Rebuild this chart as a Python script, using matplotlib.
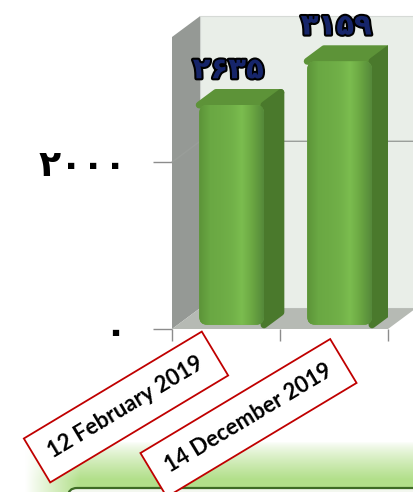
import numpy as np
import matplotlib.pyplot as plt
import matplotlib.patheffects as pe
from matplotlib.patches import Polygon, FancyBboxPatch
from matplotlib.transforms import ScaledTranslation
from matplotlib.colors import to_rgb

# data
categories = ['12 February 2019', '14 December 2019']
values = [2635, 3159]
value_labels = ['۲۶۳۵', '۳۱۵۹']
y_ticks = [0, 2000]
y_tick_labels = ['۰', '۲۰۰۰']

W, H = 413, 492
fig = plt.figure(figsize=(W / 100, H / 100), dpi=100)
fig.patch.set_facecolor('white')

# background band at the bottom (slide decoration)
bg = fig.add_axes([0, 0, 1, 1], zorder=-5)
bg.set_xlim(0, W)
bg.set_ylim(0, H)
bg.axis('off')
yy = np.linspace(0, H, H)[:, None]
xx = np.linspace(0, W, W)[None, :]
vert = np.clip((50 - yy) / 38, 0, 1) ** 0.8
horiz = np.clip((xx - 25) / 55, 0, 1)
amt = vert * horiz
white = np.array([1, 1, 1])
green = np.array(to_rgb('#b2df8a'))
img = white + (green - white) * amt[..., None]
bg.imshow(img, extent=[0, W, 0, H], origin='lower', aspect='auto')
bg.add_patch(FancyBboxPatch((68, -20), 400, 24, boxstyle='round,pad=0,rounding_size=9',
                            fc='#f3f7ef', ec='#3e6b25', lw=1.6))

# main axes = front plane of the 3d chart
ax = fig.add_axes([172 / W, 163 / H, 216 / W, 292 / H])
ax.patch.set_visible(False)
for s in ax.spines.values():
    s.set_visible(False)

DX, DY = 0.26, 250  # depth offset in data units


def proj(x, v, d):
    return (x + d * DX, v + d * DY)


ymax = 3500
# walls
ax.add_patch(Polygon([proj(0, 0, 1), proj(0, ymax, 1), proj(2.2, ymax, 1), proj(2.2, 0, 1)],
                     closed=True, fc='#e9eee8', ec='#d6dad6', lw=0.8, clip_on=False, zorder=0))
ax.add_patch(Polygon([proj(0, 0, 0), proj(0, ymax, 0), proj(0, ymax, 1), proj(0, 0, 1)],
                     closed=True, fc='#959995', ec='none', clip_on=False, zorder=1))
ax.add_patch(Polygon([proj(0, 0, 0), proj(0, 0, 1), proj(2, 0, 1), proj(2, 0, 0)],
                     closed=True, fc='#b6bab4', ec='none', clip_on=False, zorder=1))
for t in y_ticks[1:]:
    g = [proj(0, t, 0), proj(0, t, 1), proj(2.2, t, 1)]
    ax.plot([p[0] for p in g], [p[1] for p in g], color='#9a9e9a', lw=1, clip_on=False, zorder=2)

# bars
bw = 0.6
d0, d1 = 0.2, 0.8
shade = np.array([to_rgb(c) for c in ['#5c9438', '#6aa843', '#6dab45', '#71b048', '#7bbd4f', '#6aa642', '#55893a']])
pos = np.linspace(0, len(shade) - 1, 60)
grad = np.stack([np.interp(pos, np.arange(len(shade)), shade[:, k]) for k in range(3)], axis=-1)[None, :, :]

for i, (v, lab) in enumerate(zip(values, value_labels)):
    c = i + 0.5
    x0 = c - bw / 2
    top = [proj(x0, v, d0), proj(x0, v, d1), proj(x0 + bw, v, d1), proj(x0 + bw, v, d0)]
    side = [proj(x0 + bw, 0, d0), proj(x0 + bw, v, d0), proj(x0 + bw, v, d1), proj(x0 + bw, 0, d1)]
    ax.add_patch(Polygon(top, closed=True, fc='#5d9338', ec='#5d9338', lw=5, joinstyle='round', zorder=3))
    ax.add_patch(Polygon(side, closed=True, fc='#4a792c', ec='#4a792c', lw=5, joinstyle='round', zorder=3))
    fx, fy = proj(x0, 0, d0)
    front = FancyBboxPatch((fx, fy), bw, v, boxstyle='round,pad=0,rounding_size=0.075',
                           mutation_aspect=1290, fc='#6aa843', ec='none', zorder=4)
    ax.add_patch(front)
    im = ax.imshow(grad, extent=[fx, fx + bw, fy, fy + v], aspect='auto', zorder=4.5)
    im.set_clip_path(front)
    ax.annotate(lab, (c + 0.02, v), xytext=(0, 28), textcoords='offset points',
                ha='center', va='center', fontsize=21, fontweight='bold', color='#16256a',
                family='DejaVu Sans', zorder=6,
                path_effects=[pe.withStroke(linewidth=3, foreground='black')])

ax.set_xlim(0, 2)
ax.set_ylim(0, ymax)

# category labels in red boxes (the boxes are staggered a little in the original)
for i, cat in enumerate(categories):
    off = ScaledTranslation(-1.0 + 0.145 * i, -0.78 - 0.11 * i, fig.dpi_scale_trans)
    ax.text(i + 0.5, 0, cat, rotation=31, rotation_mode='anchor', ha='center', va='center',
            transform=ax.transData + off, fontsize=16, fontweight='bold', family='Lato',
            bbox=dict(boxstyle='square,pad=0.68', fc='white', ec='#c00000', lw=1.3), zorder=7)

ax.set_xticks([0, 1, 2])
ax.set_xticklabels([])
ax.tick_params(axis='x', direction='out', length=8.6, color='#8c8c8c', width=1)
ax.set_yticks(y_ticks)
ax.set_yticklabels(y_tick_labels, fontsize=26, fontweight='bold', family='DejaVu Sans')
ax.tick_params(axis='y', direction='out', length=13.7, pad=19, color='#8c8c8c', width=1)

fig.savefig('out.png', dpi=100)
